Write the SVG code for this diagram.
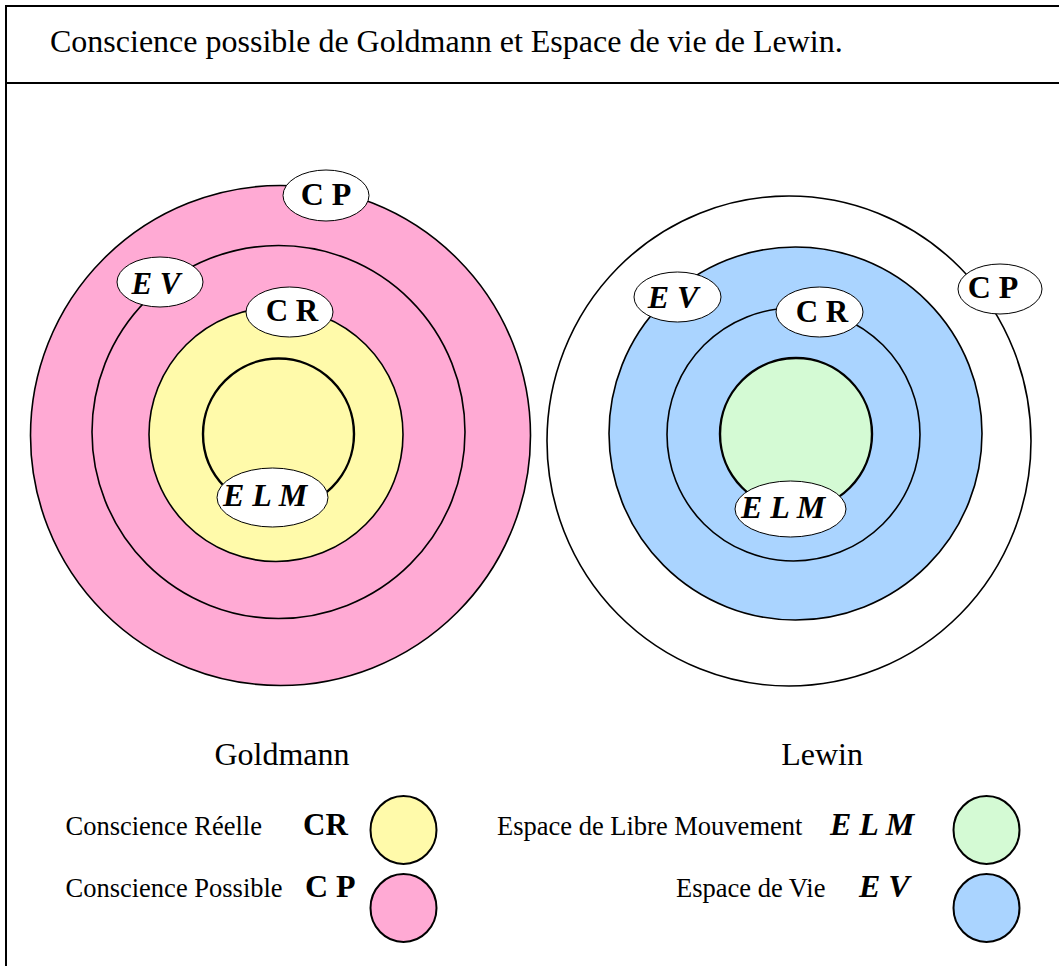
<svg xmlns="http://www.w3.org/2000/svg" width="1059" height="966" viewBox="0 0 1059 966">
<style>
.t{font-family:"Liberation Serif","Times New Roman",serif;fill:#000}
.b{font-weight:bold}
.bi{font-weight:bold;font-style:italic}
.ring{stroke:#000;stroke-width:1.6}
.core{stroke:#000;stroke-width:2.4}
.lab{fill:#fff;stroke:#000;stroke-width:1}
.leg{stroke:#000;stroke-width:2}
</style>
<rect width="1059" height="966" fill="#fff"/>
<g id="frame" stroke="#000" stroke-width="2" fill="none">
<line x1="6" y1="5" x2="6" y2="966"/>
<line x1="5" y1="6" x2="1059" y2="6"/>
<line x1="5" y1="83" x2="1059" y2="83"/>
</g>
<text class="t" x="50" y="52" font-size="32">Conscience possible de Goldmann et Espace de vie de Lewin.</text>

<g id="goldmann">
<circle class="ring" cx="280.5" cy="435.5" r="250" fill="#FFAAD4"/>
<circle class="ring" cx="278.5" cy="432" r="186.5" fill="#FFAAD4"/>
<circle class="ring" cx="276" cy="434.5" r="127" fill="#FFFAAA"/>
<circle class="core" cx="278.5" cy="434" r="75.5" fill="#FFFAAA"/>
</g>
<g id="g-cp"><ellipse class="lab" cx="326" cy="195.5" rx="43" ry="25.5"/><text class="t b" x="326" y="205" font-size="32" text-anchor="middle">C P</text></g>
<g id="g-ev"><ellipse class="lab" cx="160" cy="282" rx="43" ry="25"/><text class="t bi" x="156" y="294" font-size="31" text-anchor="middle">E V</text></g>
<g id="g-cr"><ellipse class="lab" cx="289.5" cy="312" rx="43.5" ry="25"/><text class="t b" x="292" y="321" font-size="31" text-anchor="middle">C R</text></g>
<g id="g-elm"><ellipse class="lab" cx="272.5" cy="497.5" rx="55.5" ry="29.5"/><text class="t bi" x="265" y="506" font-size="32" text-anchor="middle">E L M</text></g>

<g id="lewin">
<ellipse class="ring" cx="789" cy="441" rx="242" ry="245" fill="#fff"/>
<circle class="ring" cx="795.5" cy="433.5" r="186.5" fill="#AAD4FF"/>
<circle class="ring" cx="793.5" cy="434.5" r="126.5" fill="#AAD4FF"/>
<circle class="core" cx="796" cy="434" r="76" fill="#D4FAD4"/>
</g>
<g id="l-ev"><ellipse class="lab" cx="677.5" cy="297" rx="43.5" ry="25"/><text class="t bi" x="673" y="308" font-size="32" text-anchor="middle">E V</text></g>
<g id="l-cr"><ellipse class="lab" cx="819.5" cy="312" rx="43.5" ry="25"/><text class="t b" x="822" y="322" font-size="31" text-anchor="middle">C R</text></g>
<g id="l-cp"><ellipse class="lab" cx="1000" cy="289" rx="42" ry="25"/><text class="t b" x="993" y="298" font-size="32" text-anchor="middle">C P</text></g>
<g id="l-elm"><ellipse class="lab" cx="790.5" cy="509" rx="55.5" ry="28"/><text class="t bi" x="783" y="518" font-size="32" text-anchor="middle">E L M</text></g>

<text class="t" x="282" y="765" font-size="32" text-anchor="middle">Goldmann</text>
<text class="t" x="822" y="765" font-size="32" text-anchor="middle">Lewin</text>

<g id="legend-goldmann">
<text class="t" x="65.5" y="835" font-size="26.5">Conscience Réelle</text>
<text class="t b" x="303" y="835" font-size="31">CR</text>
<ellipse class="leg" cx="403.5" cy="830" rx="33" ry="34" fill="#FFFAAA"/>
<text class="t" x="65.5" y="897" font-size="26.5">Conscience Possible</text>
<text class="t b" x="305" y="897" font-size="32">C P</text>
<ellipse class="leg" cx="403.5" cy="908" rx="33" ry="34" fill="#FFAAD4"/>
</g>
<g id="legend-lewin">
<text class="t" x="497" y="835" font-size="26.5">Espace de Libre Mouvement</text>
<text class="t bi" x="830" y="835" font-size="32">E L M</text>
<ellipse class="leg" cx="986.5" cy="830" rx="33" ry="34" fill="#D4FAD4"/>
<text class="t" x="676" y="897" font-size="26.5">Espace de Vie</text>
<text class="t bi" x="859" y="897" font-size="32">E V</text>
<ellipse class="leg" cx="986.5" cy="908" rx="33" ry="34" fill="#AAD4FF"/>
</g>
</svg>
